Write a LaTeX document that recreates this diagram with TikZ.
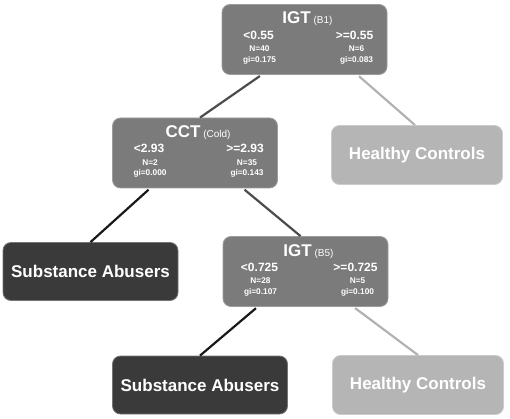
\documentclass[tikz,border=0pt]{standalone}
\usepackage{fontspec}
\setmainfont{Liberation Sans}
\usetikzlibrary{positioning}

\definecolor{splitgray}{HTML}{7B7B7B}
\definecolor{abusergray}{HTML}{3A3A3A}
\definecolor{controlgray}{HTML}{B5B5B5}

% texts of a split box: name, test, sub, thresholds, N, gi
\newcommand{\splitlabels}[9]{%
  \node[ttl] (#1t) at ([xshift=3pt,yshift=-15pt]#1.north)
    {#2\,{\fontsize{10}{12}\selectfont\mdseries(#3)}};
  \node[thr] (#1l) at ([xshift=-46pt,yshift=-31pt]#1.north) {#4};
  \node[thr] (#1r) at ([xshift=50pt,yshift=-31pt]#1.north) {#5};
  \node[cnt] (#1ln) at ([xshift=-45pt,yshift=-45pt]#1.north) {#6};
  \node[cnt] (#1rn) at ([xshift=52pt,yshift=-45pt]#1.north) {#7};
  \node[cnt] (#1lg) at ([xshift=-45pt,yshift=-56pt]#1.north) {#8};
  \node[cnt] (#1rg) at ([xshift=52pt,yshift=-56pt]#1.north) {#9};
}

\begin{document}
\begin{tikzpicture}[x=1pt,y=-1pt,
    box/.style={rectangle,rounded corners=8pt,line width=0.8pt,inner sep=0pt},
    split/.style={box,fill=splitgray,draw=splitgray!75!white,minimum width=165pt,minimum height=70pt},
    abuser/.style={box,fill=abusergray,draw=abusergray!70!white,minimum width=175pt,minimum height=58pt,
      text=white,font=\fontsize{17}{20}\selectfont\bfseries},
    control/.style={box,fill=controlgray,draw=controlgray!70!white,minimum width=171pt,minimum height=59pt,
      text=white,font=\fontsize{17}{20}\selectfont\bfseries},
    ttl/.style={text=white,inner sep=0pt,font=\fontsize{17}{20}\selectfont\bfseries},
    thr/.style={text=white,inner sep=0pt,font=\fontsize{12}{14}\selectfont\bfseries},
    cnt/.style={text=white,inner sep=0pt,font=\fontsize{8.3}{10}\selectfont\bfseries},
    edge/.style={line width=2.2pt,shorten <=2pt},
    midedge/.style={edge,draw=black!70},
    darkedge/.style={edge,draw=black!90},
    lightedge/.style={edge,draw=black!30}]
  \useasboundingbox (0,0) rectangle (510,419);

  \node[split] (igtA) at (304.5,39.5) {};
  \node[split] (cct) at (195,153) {};
  \node[control] (hcA) at (417,155) {Healthy Controls};
  \node[abuser] (saA) at (90.5,271.5) {Substance Abusers};
  \node[split] (igtB) at (305.5,271.5) {};
  \node[abuser] (saB) at (200,385) {Substance Abusers};
  \node[control] (hcB) at (418,385) {Healthy Controls};

  \splitlabels{igtA}{IGT}{B1}{<0.55}{>=0.55}{N=40}{N=6}{gi=0.175}{gi=0.083}
  \splitlabels{cct}{CCT}{Cold}{<2.93}{>=2.93}{N=2}{N=35}{gi=0.000}{gi=0.143}
  \splitlabels{igtB}{IGT}{B5}{<0.725}{>=0.725}{N=28}{N=5}{gi=0.107}{gi=0.100}

  \draw[midedge] ([xshift=-43pt]igtA.south) -- ([xshift=5pt]cct.north);
  \draw[lightedge] ([xshift=53pt]igtA.south) -- ([xshift=-2pt]hcA.north);
  \draw[darkedge] ([xshift=-45pt]cct.south) -- (saA.north);
  \draw[midedge] ([xshift=48pt]cct.south) -- ([xshift=-5pt]igtB.north);
  \draw[darkedge] ([xshift=-48pt]igtB.south) -- (saB.north);
  \draw[lightedge] ([xshift=48pt]igtB.south) -- (hcB.north);
\end{tikzpicture}
\end{document}
